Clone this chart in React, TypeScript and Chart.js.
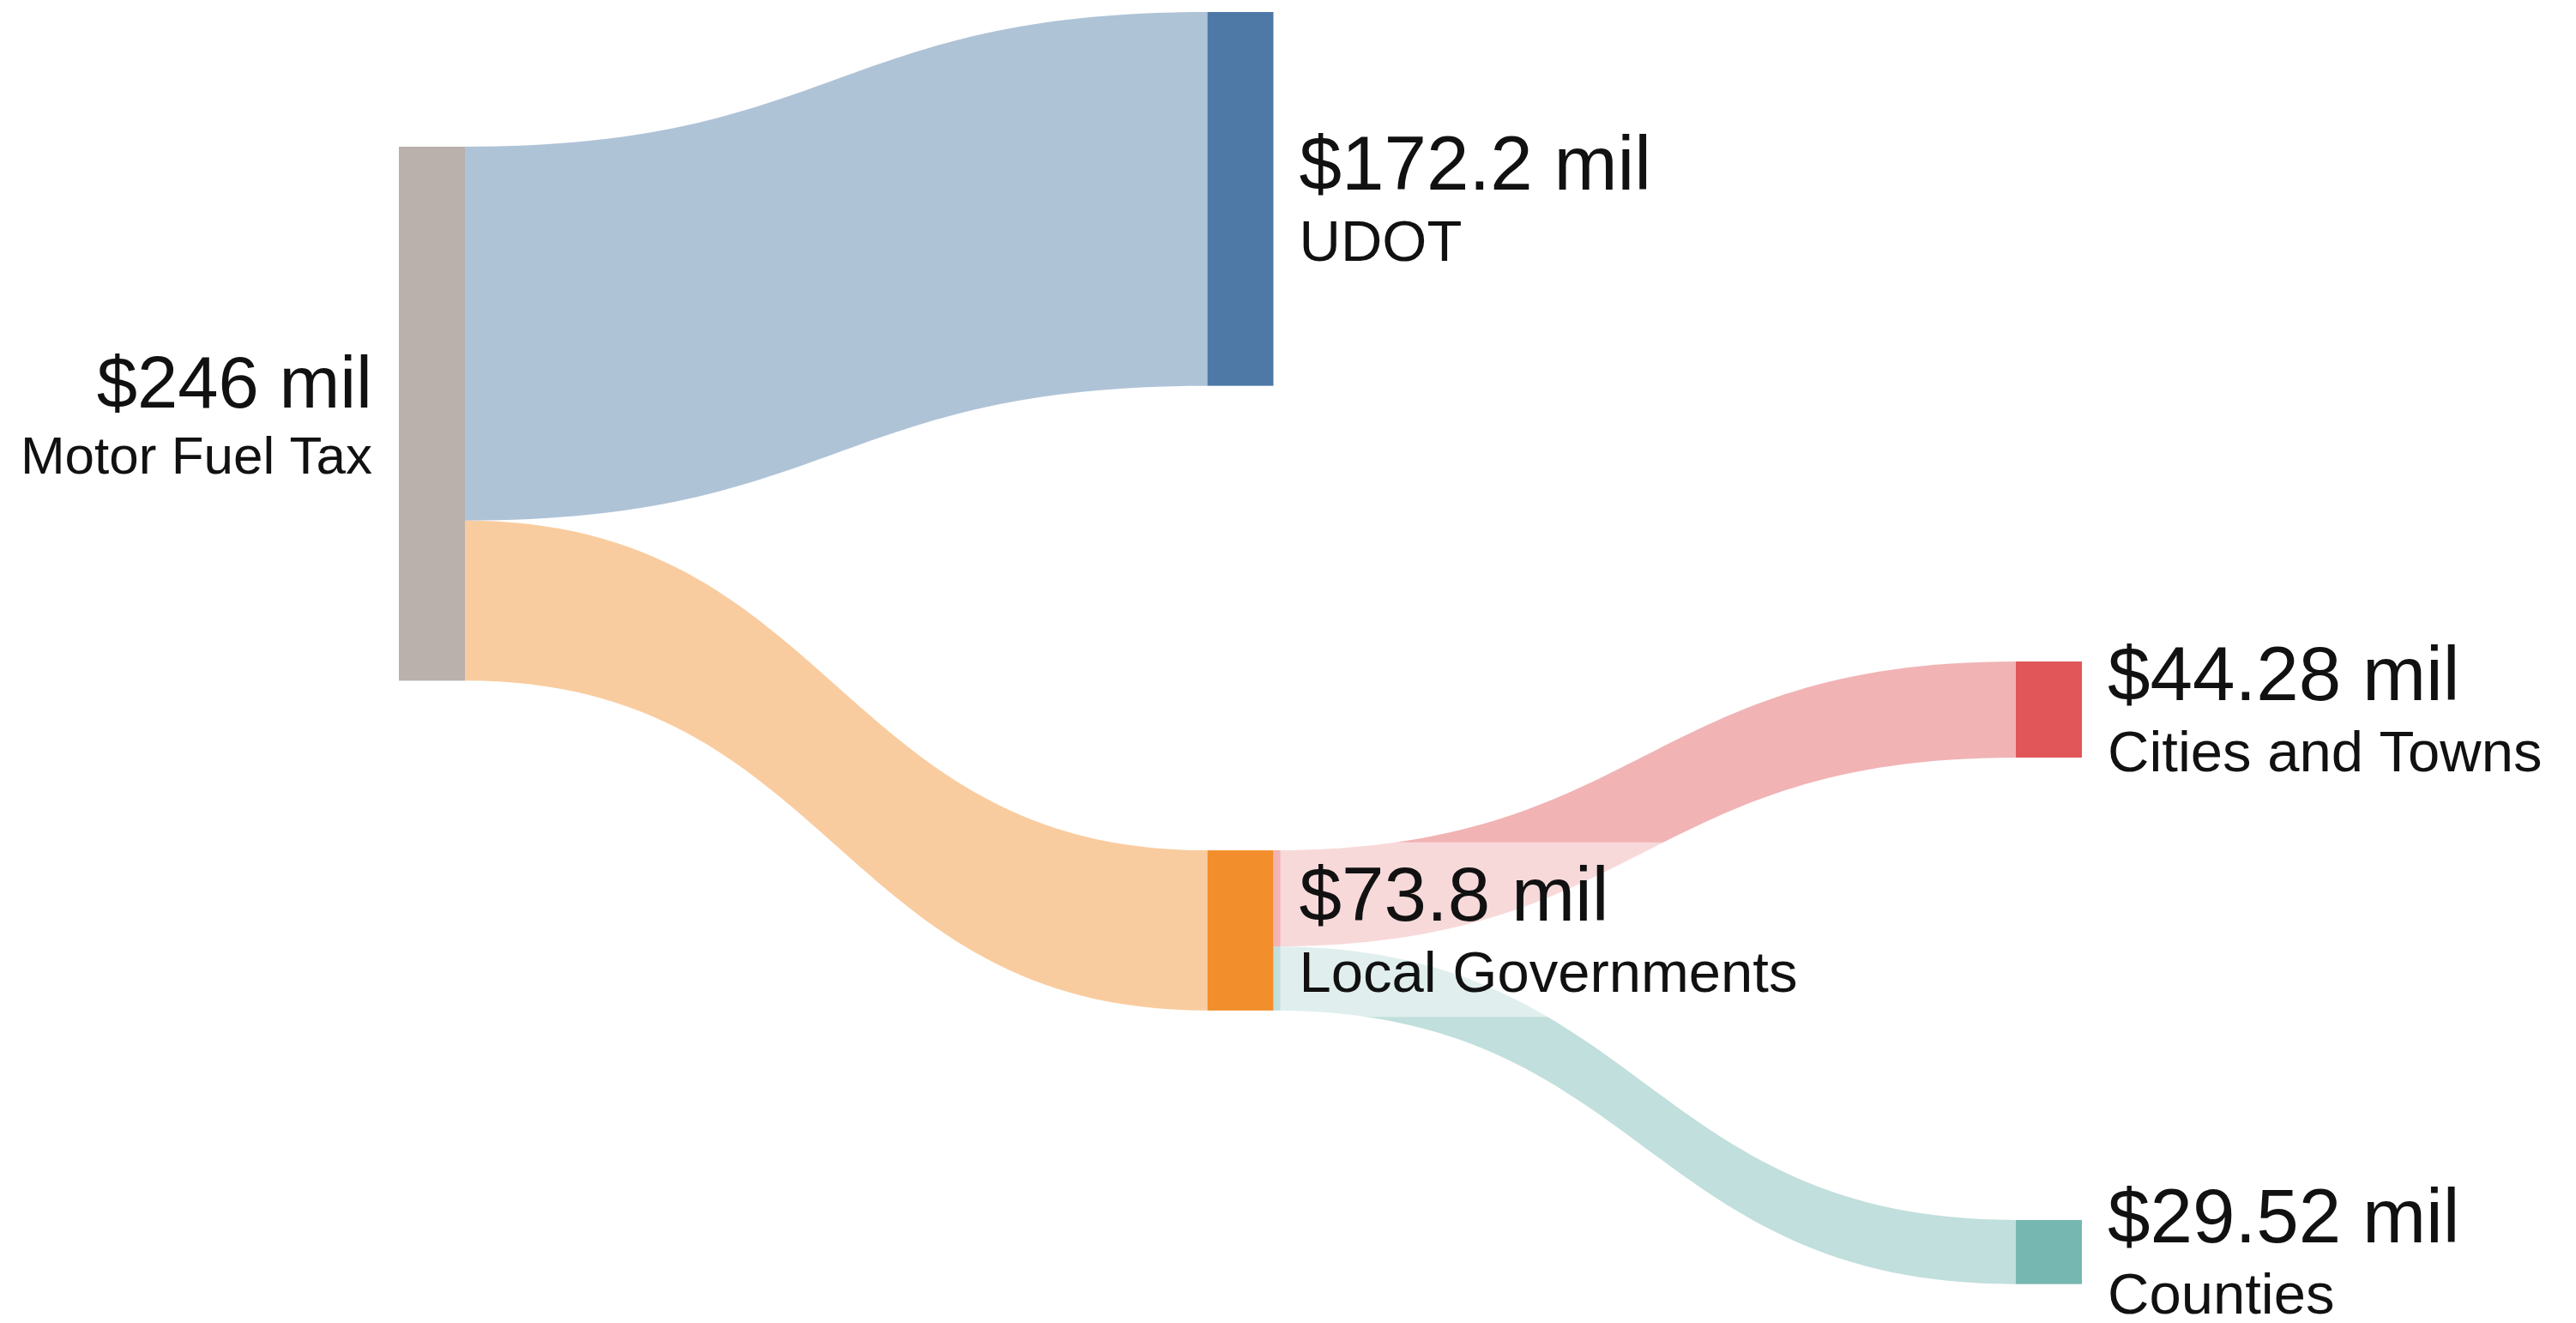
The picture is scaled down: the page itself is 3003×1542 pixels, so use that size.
import React, { useEffect, useRef } from "react";
import { Chart, registerables } from "chart.js";

Chart.register(...registerables);

// ---- Data ----
const nodeNames = ["Motor Fuel Tax", "UDOT", "Local Governments", "Cities and Towns", "Counties"];
const nodeValueLabels = ["$246 mil", "$172.2 mil", "$73.8 mil", "$44.28 mil", "$29.52 mil"];
const nodeValues = [246, 172.2, 73.8, 44.28, 29.52];
const nodeColumns = [0, 1, 1, 2, 2];
// vertical offset of each node's top edge, in $ mil, measured from the top of the plot
const nodeTops = [62.05, 0, 386.2, 299.2, 556.5];
const nodeColors = ["#bab0ac", "#4e79a7", "#f28e2b", "#e15759", "#76b7b2"];

const linkSources = [0, 0, 2, 2];
const linkTargets = [1, 2, 3, 4];
const linkValues = [172.2, 73.8, 44.28, 29.52];

const FONT = "'Liberation Sans', Arial, Helvetica, sans-serif";

function rgba(hex: string, a: number) {
  const h = hex.replace("#", "");
  const r = parseInt(h.slice(0, 2), 16);
  const g = parseInt(h.slice(2, 4), 16);
  const b = parseInt(h.slice(4, 6), 16);
  return `rgba(${r},${g},${b},${a})`;
}

const sankeyPlugin = {
  id: "sankeyDraw",
  afterDraw(chart: any) {
    const ctx: CanvasRenderingContext2D = chart.ctx;
    const xs = chart.scales.x;
    const ys = chart.scales.y;
    const nodeW = 77;

    const nodeX = (i: number) => xs.getPixelForValue(nodeColumns[i]);

    // links
    const outOff = nodeValues.map(() => 0);
    const inOff = nodeValues.map(() => 0);
    ctx.save();
    for (let k = 0; k < linkValues.length; k++) {
      const s = linkSources[k];
      const t = linkTargets[k];
      const v = linkValues[k];
      const x0 = nodeX(s) + nodeW;
      const x1 = nodeX(t);
      const y0a = ys.getPixelForValue(nodeTops[s] + outOff[s]);
      const y0b = ys.getPixelForValue(nodeTops[s] + outOff[s] + v);
      const y1a = ys.getPixelForValue(nodeTops[t] + inOff[t]);
      const y1b = ys.getPixelForValue(nodeTops[t] + inOff[t] + v);
      outOff[s] += v;
      inOff[t] += v;
      const mx = (x0 + x1) / 2;
      ctx.beginPath();
      ctx.moveTo(x0, y0a);
      ctx.bezierCurveTo(mx, y0a, mx, y1a, x1, y1a);
      ctx.lineTo(x1, y1b);
      ctx.bezierCurveTo(mx, y1b, mx, y0b, x0, y0b);
      ctx.closePath();
      ctx.fillStyle = rgba(nodeColors[t], 0.45);
      ctx.fill();
    }

    // nodes
    for (let i = 0; i < nodeValues.length; i++) {
      const x = nodeX(i);
      const yt = ys.getPixelForValue(nodeTops[i]);
      const yb = ys.getPixelForValue(nodeTops[i] + nodeValues[i]);
      ctx.fillStyle = nodeColors[i];
      ctx.fillRect(x, yt, nodeW, yb - yt);
    }

    // labels
    for (let i = 0; i < nodeValues.length; i++) {
      const x = nodeX(i);
      const yt = ys.getPixelForValue(nodeTops[i]);
      const yb = ys.getPixelForValue(nodeTops[i] + nodeValues[i]);
      const cy = (yt + yb) / 2;
      const left = nodeColumns[i] === 0;
      const vSize = left ? 85 : 89;
      const nSize = left ? 62 : 67;
      const vBase = cy + (left ? -7 : -11);
      const nBase = cy + (left ? 70 : 72);
      ctx.font = `${vSize}px ${FONT}`;
      const wv = ctx.measureText(nodeValueLabels[i]).width;
      ctx.font = `${nSize}px ${FONT}`;
      const wn = ctx.measureText(nodeNames[i]).width;
      const w = Math.max(wv, wn);
      const tx = left ? x - 31 : x + nodeW + 30;
      const bx0 = left ? tx - w - 22 : tx - 22;
      const bx1 = left ? tx + 22 : tx + w + 22;
      const by0 = vBase - vSize * 1.03;
      const by1 = nBase + nSize * 0.43;
      ctx.fillStyle = "rgba(255,255,255,0.5)";
      ctx.fillRect(bx0, by0, bx1 - bx0, by1 - by0);

      ctx.fillStyle = "#111111";
      ctx.textAlign = left ? "right" : "left";
      ctx.textBaseline = "alphabetic";
      ctx.font = `${vSize}px ${FONT}`;
      ctx.fillText(nodeValueLabels[i], tx, vBase);
      ctx.font = `${nSize}px ${FONT}`;
      ctx.fillText(nodeNames[i], tx, nBase);
    }
    ctx.restore();
  },
};

export default function App() {
  const ref = useRef<HTMLCanvasElement | null>(null);
  useEffect(() => {
    document.body.style.margin = "0";
    const canvas = ref.current;
    if (!canvas) return;
    const chart = new Chart(canvas, {
      type: "scatter",
      data: { datasets: [{ data: [] }] },
      options: {
        animation: false,
        responsive: false,
        maintainAspectRatio: false,
        events: [],
        layout: { padding: { left: 465, right: 653, top: 14, bottom: 10 } },
        scales: {
          x: { type: "linear", min: 0, max: 2, display: false },
          y: { type: "linear", min: 0, max: 600, reverse: true, display: false },
        },
        plugins: { legend: { display: false }, tooltip: { enabled: false } },
      },
      plugins: [sankeyPlugin],
    } as any);
    return () => chart.destroy();
  }, []);
  return (
    <canvas
      ref={ref}
      width={3003}
      height={1542}
      style={{ display: "block", width: "3003px", height: "1542px", background: "#ffffff" }}
    />
  );
}
